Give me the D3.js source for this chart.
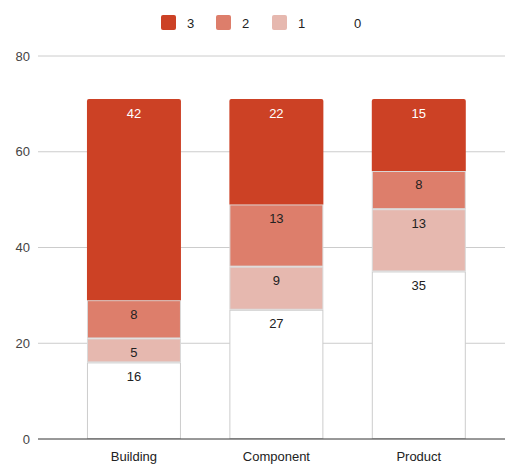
<!DOCTYPE html>
<html>
<head>
<meta charset="utf-8">
<script src="https://cdn.jsdelivr.net/npm/d3@7"></script>
<style>
  html, body { margin: 0; padding: 0; background: #fff; }
  svg { display: block; font-family: "Liberation Sans", Arial, sans-serif; }
</style>
</head>
<body>
<svg id="chart" width="505" height="464"></svg>
<script>
// Categories and stacked series (bottom to top: 0, 1, 2, 3)
const categories = ["Building", "Component", "Product"];
const seriesKeys = ["0", "1", "2", "3"];
const values0 = [16, 27, 35];
const values1 = [5, 9, 13];
const values2 = [8, 13, 8];
const values3 = [42, 22, 15];
const yTicks = [0, 20, 40, 60, 80];
const legendOrder = ["3", "2", "1", "0"];

const colors = { "3": "#cc4125", "2": "#dd7e6b", "1": "#e6b8af", "0": "#ffffff" };
const textColors = { "3": "#ffffff", "2": "#222222", "1": "#222222", "0": "#222222" };

const rows = categories.map((c, i) => ({
  category: c,
  "0": values0[i], "1": values1[i], "2": values2[i], "3": values3[i]
}));

const svg = d3.select("#chart");
const plotLeft = 38, plotRight = 505, plotTop = 56, plotBottom = 439;
const fs = 13;

const x = d3.scaleBand().domain(categories).range([62.75, 490]).paddingInner(0.34).paddingOuter(0.17);
const y = d3.scaleLinear().domain([0, 80]).range([plotBottom, plotTop]);

// Gridlines
svg.append("g").selectAll("line").data(yTicks.filter(t => t !== 0)).join("line")
  .attr("x1", plotLeft).attr("x2", plotRight)
  .attr("y1", d => y(d)).attr("y2", d => y(d))
  .attr("stroke", "#cccccc").attr("stroke-width", 1);

// Y axis labels
svg.append("g").selectAll("text").data(yTicks).join("text")
  .attr("x", 30).attr("y", d => y(d)).attr("dy", "0.35em")
  .attr("text-anchor", "end").attr("font-size", fs).attr("fill", "#444")
  .text(d => d);

const stacked = d3.stack().keys(seriesKeys)(rows);
const bw = x.bandwidth();
const layers = svg.append("g").selectAll("g").data(stacked).join("g");

layers.each(function(layer) {
  const key = layer.key;
  const g = d3.select(this);
  layer.forEach(seg => {
    const x0 = x(seg.data.category);
    const yTop = y(seg[1]), yBot = y(seg[0]);
    if (key === "3") {
      // top segment with slightly rounded upper corners
      const r = 2;
      const p = `M${x0},${yBot} L${x0},${yTop + r} Q${x0},${yTop} ${x0 + r},${yTop} L${x0 + bw - r},${yTop} Q${x0 + bw},${yTop} ${x0 + bw},${yTop + r} L${x0 + bw},${yBot} Z`;
      g.append("path").attr("d", p).attr("fill", colors[key]);
    } else {
      g.append("rect")
        .attr("x", x0 + 0.5).attr("y", yTop + 0.5)
        .attr("width", bw - 1).attr("height", yBot - yTop - 1)
        .attr("fill", colors[key])
        .attr("stroke", key === "0" ? "#cccccc" : "#d9d9d9")
        .attr("stroke-width", 1);
    }
    g.append("text")
      .attr("x", x0 + bw / 2).attr("y", yTop + 14).attr("dy", "0.35em")
      .attr("text-anchor", "middle").attr("font-size", fs)
      .attr("fill", textColors[key])
      .text(seg[1] - seg[0]);
  });
});

// Baseline
svg.append("line")
  .attr("x1", plotLeft).attr("x2", plotRight)
  .attr("y1", y(0)).attr("y2", y(0))
  .attr("stroke", "#333333").attr("stroke-width", 1);

// X axis labels
svg.append("g").selectAll("text").data(categories).join("text")
  .attr("x", d => x(d) + bw / 2).attr("y", 456).attr("dy", "0.35em")
  .attr("text-anchor", "middle").attr("font-size", fs).attr("fill", "#222")
  .text(d => d);

// Legend
const legendX = [161, 216, 272, 328];
const legend = svg.append("g").selectAll("g").data(legendOrder).join("g")
  .attr("transform", (d, i) => `translate(${legendX[i]},15)`);
legend.append("rect")
  .attr("width", 15).attr("height", 15).attr("rx", 2)
  .attr("fill", d => colors[d]);
legend.append("text")
  .attr("x", 26).attr("y", 8).attr("dy", "0.35em")
  .attr("font-size", fs).attr("fill", "#222")
  .text(d => d);
</script>
</body>
</html>
